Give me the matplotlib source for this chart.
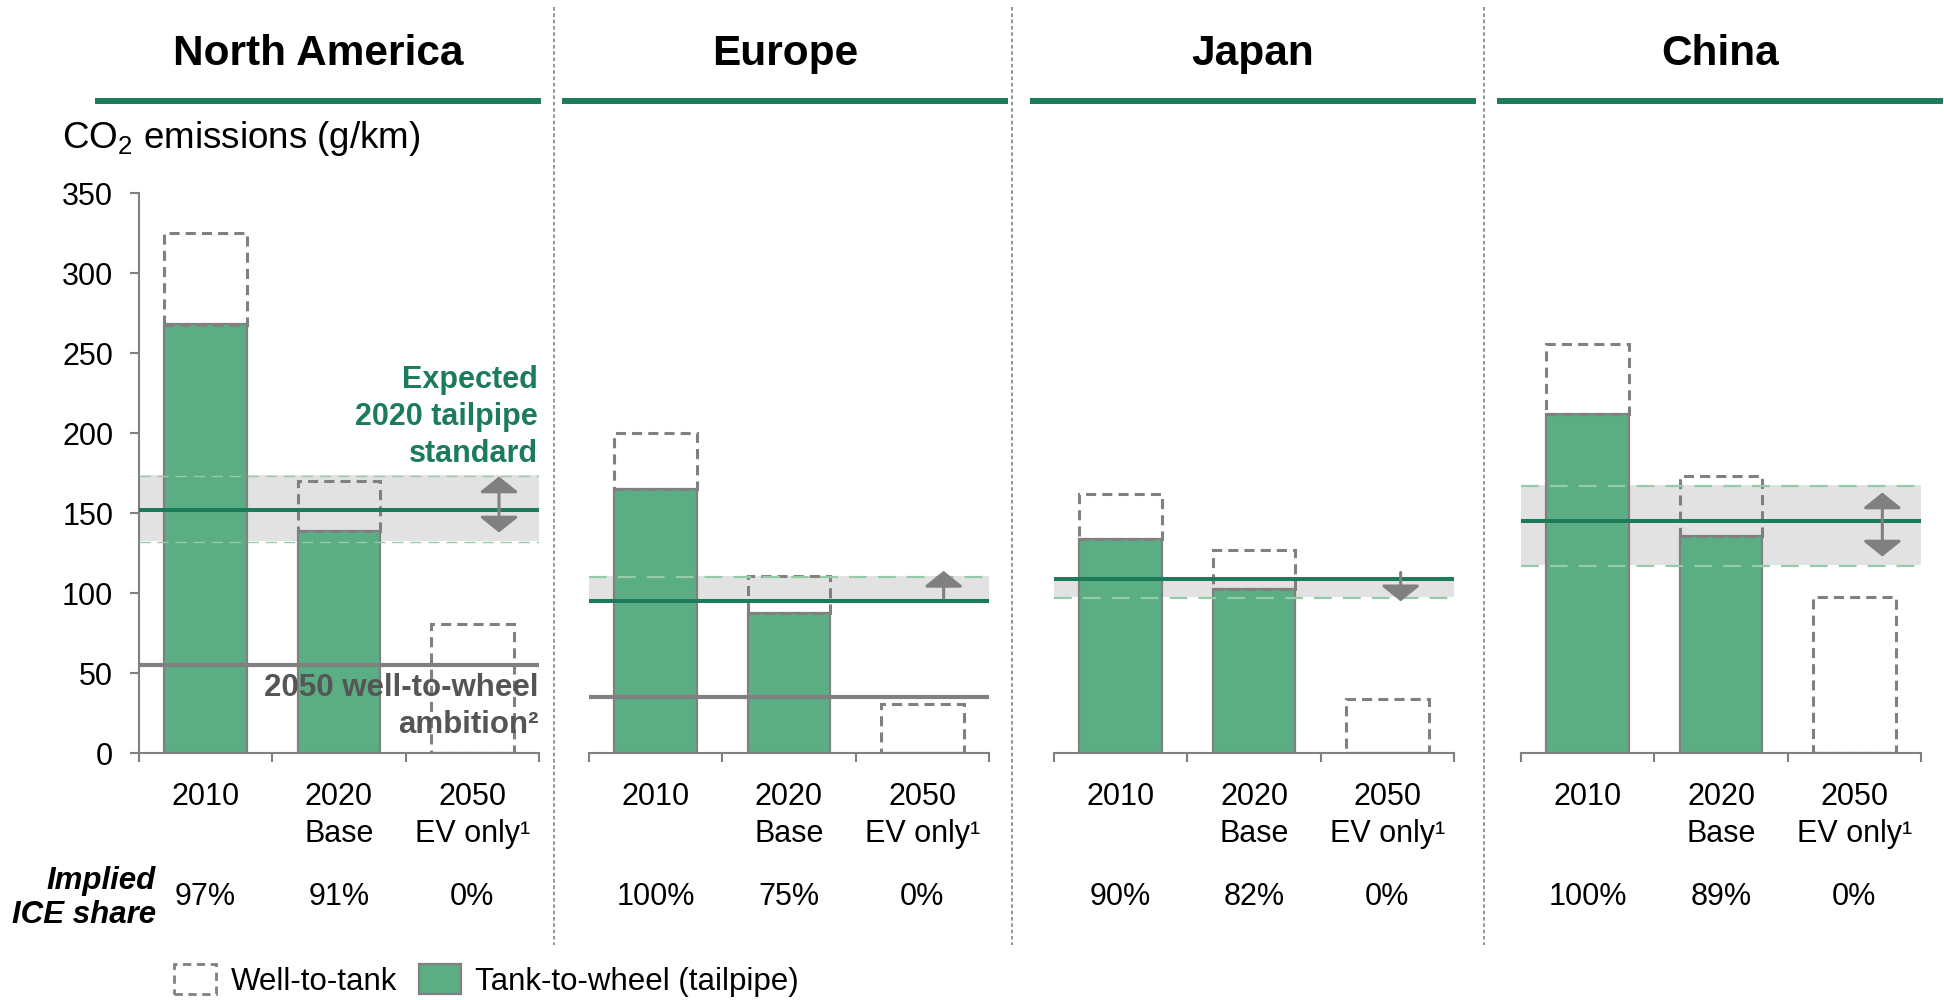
import numpy as np
import matplotlib
matplotlib.use('Agg')
import matplotlib.pyplot as plt
from matplotlib.lines import Line2D
from matplotlib.patches import Patch
from matplotlib.transforms import blended_transform_factory

plt.rcParams['font.family'] = ['Liberation Sans', 'DejaVu Sans']
plt.rcParams['mathtext.fontset'] = 'custom'
plt.rcParams['mathtext.rm'] = 'Liberation Sans'

# Data (g CO2 / km)
regions = ['North America', 'Europe', 'Japan', 'China']
categories = ['2010', '2020\nBase', '2050\nEV only¹']

na_ttw = [268, 139, 0]
na_total = [325, 170, 81]
eu_ttw = [165, 88, 0]
eu_total = [200, 111, 31]
jp_ttw = [134, 103, 0]
jp_total = [162, 127, 34]
cn_ttw = [212, 136, 0]
cn_total = [256, 173, 98]

na_ice = ['97%', '91%', '0%']
eu_ice = ['100%', '75%', '0%']
jp_ice = ['90%', '82%', '0%']
cn_ice = ['100%', '89%', '0%']

standard_2020 = [152, 95, 109, 145]
band_low = [133, 95, 98, 118]
band_high = [174, 111, 110, 168]
arrow_from = [138, 97, 113, 123]
arrow_to = [173, 114, 95, 163]
arrow_both = [True, False, False, True]
ambition_2050 = [55, 35, None, None]

ttw_all = [na_ttw, eu_ttw, jp_ttw, cn_ttw]
total_all = [na_total, eu_total, jp_total, cn_total]
ice_all = [na_ice, eu_ice, jp_ice, cn_ice]

# colours
dark_green = '#1b7b5a'
bar_green = '#5bad83'
grey = '#808080'
band_grey = '#e2e2e2'
light_green = '#93cca6'

W, H = 1944, 1000
fig = plt.figure(figsize=(W / 100, H / 100), dpi=100)

ax_left = [139, 589, 1054, 1521]
header_x = [(95, 541), (562, 1008), (1030, 1476), (1497, 1943)]
arrow_x = [2.2, 2.16, 2.1, 2.21]
dash_lw = [1.0, 1.6, 1.6, 1.6]
x = np.arange(3)

for k, region in enumerate(regions):
    ax = fig.add_axes([ax_left[k] / W, 1 - 753.3 / H, 400 / W, 560 / H])
    ax.set_xlim(-0.5, 2.5)
    ax.set_ylim(0, 350)

    ttw = np.array(ttw_all[k])
    total = np.array(total_all[k])

    # expected 2020 standard range
    ax.axhspan(band_low[k], band_high[k], color=band_grey, lw=0, zorder=1)
    for yv in (band_low[k], band_high[k]):
        if abs(yv - standard_2020[k]) > 2:
            ax.axhline(yv - 1, color=light_green, lw=dash_lw[k],
                       ls=(0, (8, 5)), zorder=3.5)

    # bars
    ax.bar(x, ttw, width=0.62, color=bar_green, edgecolor=grey, lw=1.6, zorder=2)
    ax.bar(x, total - ttw, bottom=ttw, width=0.62, fill=False, edgecolor=grey,
           lw=2.2, ls=(0, (3.3, 2)), zorder=3)

    ax.axhline(standard_2020[k], color=dark_green, lw=2.9, zorder=4)
    if ambition_2050[k] is not None:
        ax.axhline(ambition_2050[k], color=grey, lw=3, zorder=4)

    style = '<|-|>' if arrow_both[k] else '-|>'
    ax.annotate('', xy=(arrow_x[k], arrow_to[k]), xytext=(arrow_x[k], arrow_from[k]),
                arrowprops=dict(arrowstyle=style + ',head_length=0.4,head_width=0.5',
                                color=grey, lw=2.2, mutation_scale=24,
                                shrinkA=0, shrinkB=0), zorder=5)

    # axes styling
    for s in ['top', 'right']:
        ax.spines[s].set_visible(False)
    ax.spines['bottom'].set_color(grey)
    ax.spines['bottom'].set_linewidth(1.5)
    if k == 0:
        ax.spines['left'].set_color(grey)
        ax.spines['left'].set_linewidth(1.5)
        ax.set_yticks(np.arange(0, 351, 50))
        ax.tick_params(axis='y', length=6.5, width=1.5, color=grey,
                       labelsize=22, pad=12)
    else:
        ax.spines['left'].set_visible(False)
        ax.set_yticks([])

    ax.set_xticks(x)
    ax.set_xticklabels(categories, fontsize=22, linespacing=1.3)
    ax.set_xticks([-0.5, 0.5, 1.5, 2.5], minor=True)
    ax.tick_params(axis='x', which='major', length=0, pad=21)
    ax.tick_params(axis='x', which='minor', length=6.5, width=1.5, color=grey)

    # implied ICE share row
    tr = blended_transform_factory(ax.transData, fig.transFigure)
    for i, lab in enumerate(ice_all[k]):
        ax.text(i, 1 - 897 / H, lab, transform=tr, ha='center', va='center',
                fontsize=22)

    if k == 0:
        ax.text(2.49, 210, 'Expected\n2020 tailpipe\nstandard', ha='right',
                va='center', fontsize=22, fontweight='bold', color=dark_green,
                linespacing=1.3, zorder=6)
        ax.text(2.5, 29.5, '2050 well-to-wheel\nambition²', ha='right',
                va='center', fontsize=22.5, fontweight='bold', color='#555555',
                linespacing=1.3, zorder=6)

    # region header
    x0, x1 = header_x[k]
    fig.text((x0 + x1) / 2 / W, 1 - 54 / H, region, ha='center', va='center',
             fontsize=30.5, fontweight='bold')
    fig.add_artist(Line2D([x0 / W, x1 / W], [1 - 101 / H] * 2, color=dark_green,
                          lw=4.3, solid_capstyle='butt'))

# dotted separators between regions
for sx in [554, 1012, 1484]:
    fig.add_artist(Line2D([sx / W] * 2, [1 - 7 / H, 1 - 945 / H], color='#8c8c8c',
                          lw=1.3, ls=(0, (2, 1.5))))

fig.text(62 / W, 1 - 138 / H, r'CO$_\mathregular{2}$ emissions (g/km)',
         ha='left', va='center', fontsize=26.5)
fig.text(156 / W, 1 - 898 / H, 'Implied\nICE share', ha='right', va='center',
         fontsize=22.5, fontweight='bold', style='italic', linespacing=1.15)

handles = [Patch(facecolor='none', edgecolor=grey, ls=(0, (3, 2)), lw=2),
           Patch(facecolor=bar_green, edgecolor=grey, lw=1.6)]
fig.legend(handles, ['Well-to-tank', 'Tank-to-wheel (tailpipe)'], ncol=2,
           loc='lower left', bbox_to_anchor=(171 / W, 0.0), frameon=False,
           fontsize=22.5, handlelength=1.35, handleheight=1.1, handletextpad=0.45,
           columnspacing=0.7, borderpad=0.1, borderaxespad=0)

fig.savefig('out.png', dpi=100)
